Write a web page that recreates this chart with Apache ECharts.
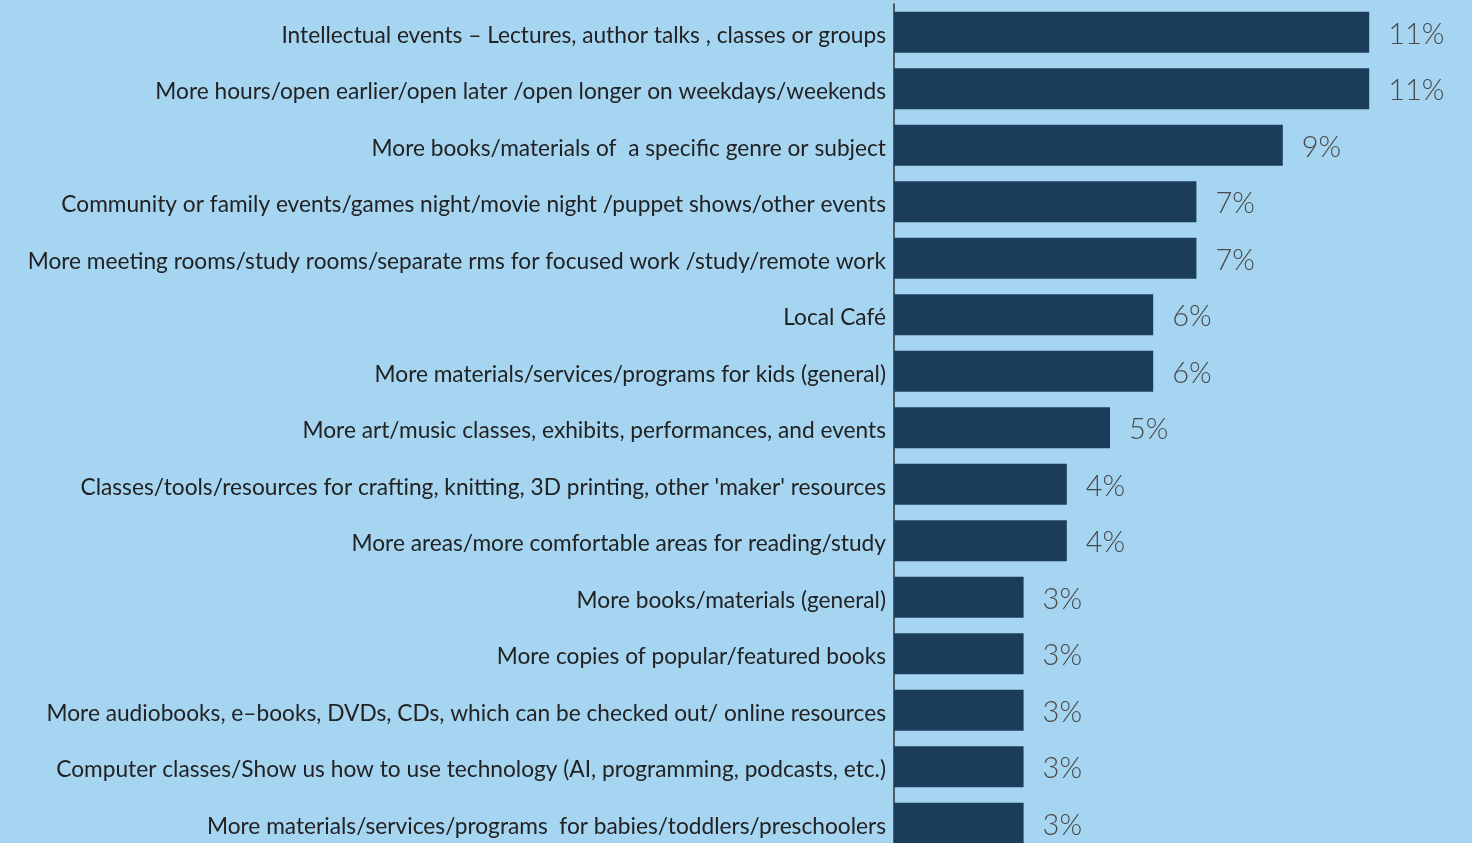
<!DOCTYPE html>
<html>
<head>
<meta charset="utf-8">
<script src="https://cdn.jsdelivr.net/npm/echarts@6/dist/echarts.min.js"></script>
<style>
  html, body { margin: 0; padding: 0; background: #a6d5f2; }
  #chart { width: 1472px; height: 843px; }
</style>
</head>
<body>
<div id="chart"></div>
<script>
// Requested library improvements, share of responses (%)
const categories = [
  "Intellectual events \u2013 Lectures, author talks , classes or groups",
  "More hours/open earlier/open later /open longer on weekdays/weekends",
  "More books/materials of  a specific genre or subject",
  "Community or family events/games night/movie night /puppet shows/other events",
  "More meeting rooms/study rooms/separate rms for focused work /study/remote work",
  "Local Caf\u00e9",
  "More materials/services/programs for kids (general)",
  "More art/music classes, exhibits, performances, and events",
  "Classes/tools/resources for crafting, knitting, 3D printing, other 'maker' resources",
  "More areas/more comfortable areas for reading/study",
  "More books/materials (general)",
  "More copies of popular/featured books",
  "More audiobooks, e\u2013books, DVDs, CDs, which can be checked out/ online resources",
  "Computer classes/Show us how to use technology (AI, programming, podcasts, etc.)",
  "More materials/services/programs  for babies/toddlers/preschoolers"
];
const shares = [11, 11, 9, 7, 7, 6, 6, 5, 4, 4, 3, 3, 3, 3, 3];

const chart = echarts.init(document.getElementById('chart'), null, { renderer: 'canvas' });
chart.setOption({
  backgroundColor: '#a6d5f2',
  animation: false,
  grid: {
    left: 894, top: 4, width: 518.4, height: 847.5,
    containLabel: false, outerBoundsMode: 'none'
  },
  xAxis: {
    type: 'value', min: 0, max: 12, show: false
  },
  yAxis: {
    type: 'category',
    data: categories,
    inverse: true,
    axisLine: { show: true, lineStyle: { color: '#333333', width: 1.5 } },
    axisTick: { show: false },
    axisLabel: {
      margin: 8,
      formatter: v => '{t|' + v + '}',
      rich: {
        t: {
          color: '#222222',
          fontFamily: 'Lato',
          fontSize: 22.7,
          padding: [6, 0, 0, 0]
        }
      }
    }
  },
  series: [{
    type: 'bar',
    data: shares,
    barWidth: 41,
    itemStyle: { color: '#1b3d5a' },
    label: {
      show: true,
      position: 'right',
      distance: 19,
      offset: [0, 2],
      formatter: p => p.value + '%',
      color: '#4a4a4a',
      fontFamily: 'Lato',
      fontWeight: 300,
      fontSize: 29
    }
  }]
});
</script>
</body>
</html>
